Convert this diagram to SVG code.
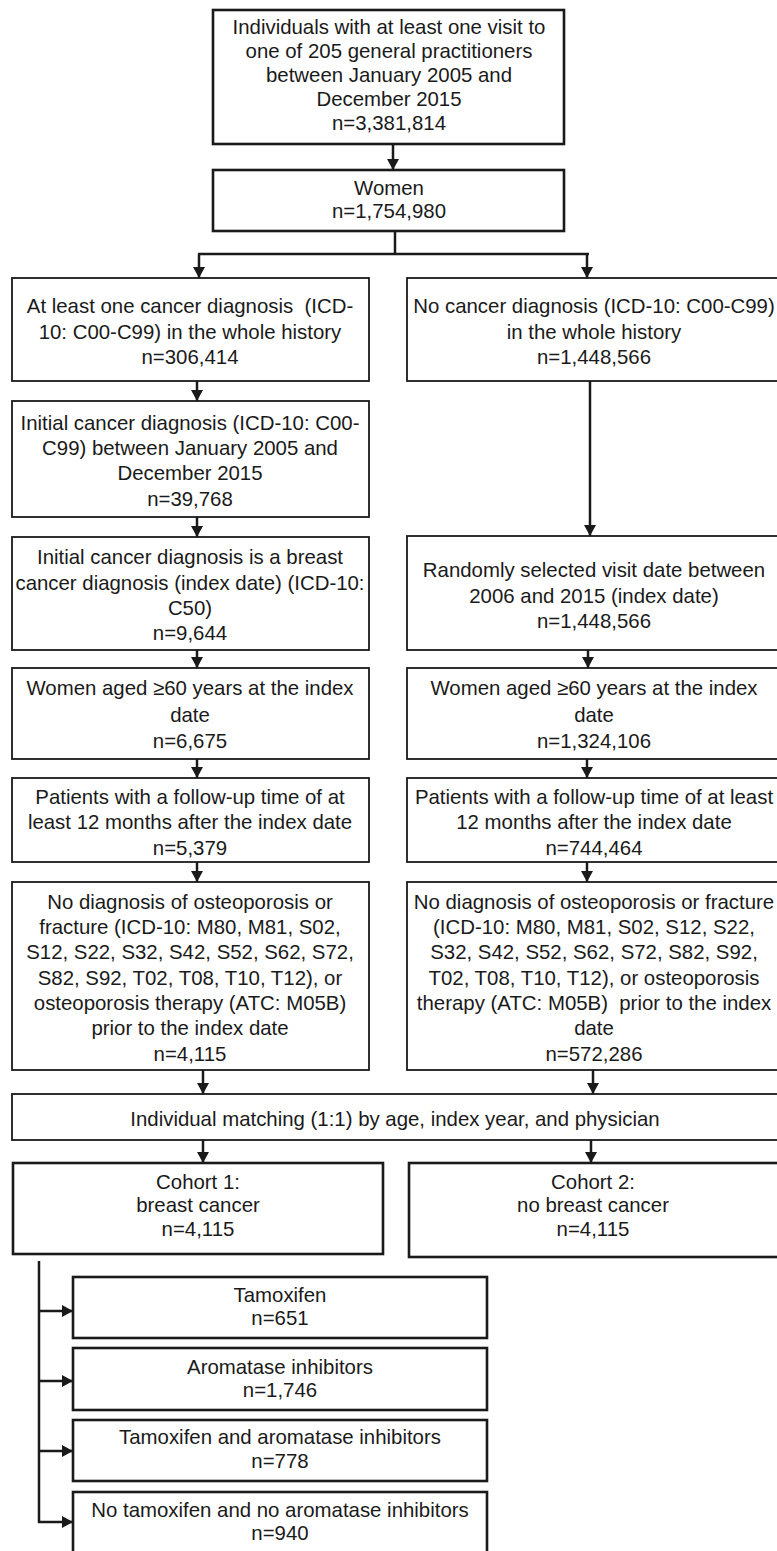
<svg xmlns="http://www.w3.org/2000/svg" width="777" height="1551" viewBox="0 0 777 1551">
<style>
  .box { fill: #fff; stroke: #1a1a1a; stroke-width: 1.8; }
  .thick { stroke-width: 2.6; }
  .t { font-family: "Liberation Sans", Arial, sans-serif; font-size: 20.4px; fill: #1a1a1a; text-anchor: middle; }
  .c { fill: none; stroke: #1a1a1a; stroke-width: 2.5; }
</style>
<defs>
  <marker id="ah" markerUnits="userSpaceOnUse" markerWidth="12" markerHeight="12" refX="11" refY="6" orient="auto">
    <path d="M0,0 L11,6 L0,12 z" fill="#1a1a1a"/>
  </marker>
</defs>
<rect width="777" height="1551" fill="#fff"/>

<g id="connectors">
  <line class="c" x1="393" y1="144" x2="393" y2="170" marker-end="url(#ah)"/>
  <line class="c" x1="395" y1="231" x2="395" y2="254"/>
  <line class="c" x1="198" y1="254" x2="589" y2="254"/>
  <line class="c" x1="199" y1="254" x2="199" y2="278" marker-end="url(#ah)"/>
  <line class="c" x1="587" y1="254" x2="587" y2="278" marker-end="url(#ah)"/>
  <line class="c" x1="197" y1="381" x2="197" y2="401" marker-end="url(#ah)"/>
  <line class="c" x1="590" y1="381" x2="590" y2="536" marker-end="url(#ah)"/>
  <line class="c" x1="197" y1="517" x2="197" y2="537" marker-end="url(#ah)"/>
  <line class="c" x1="197" y1="650" x2="197" y2="668" marker-end="url(#ah)"/>
  <line class="c" x1="588" y1="650" x2="588" y2="668" marker-end="url(#ah)"/>
  <line class="c" x1="197" y1="759" x2="197" y2="778" marker-end="url(#ah)"/>
  <line class="c" x1="587" y1="759" x2="587" y2="778" marker-end="url(#ah)"/>
  <line class="c" x1="197" y1="862" x2="197" y2="882" marker-end="url(#ah)"/>
  <line class="c" x1="587" y1="862" x2="587" y2="882" marker-end="url(#ah)"/>
  <line class="c" x1="203" y1="1070" x2="203" y2="1094" marker-end="url(#ah)"/>
  <line class="c" x1="593" y1="1070" x2="593" y2="1094" marker-end="url(#ah)"/>
  <line class="c" x1="203" y1="1140" x2="203" y2="1163" marker-end="url(#ah)"/>
  <line class="c" x1="591" y1="1140" x2="591" y2="1163" marker-end="url(#ah)"/>
  <line class="c" x1="39" y1="1261" x2="39" y2="1523"/>
  <line class="c" x1="38" y1="1311" x2="73" y2="1311" marker-end="url(#ah)"/>
  <line class="c" x1="38" y1="1381" x2="73" y2="1381" marker-end="url(#ah)"/>
  <line class="c" x1="38" y1="1451" x2="73" y2="1451" marker-end="url(#ah)"/>
  <line class="c" x1="38" y1="1522" x2="73" y2="1522" marker-end="url(#ah)"/>
</g>

<g id="n-all">
  <rect class="box thick" x="213" y="10" width="351" height="134"/>
  <text class="t"><tspan x="389" y="34">Individuals with at least one visit to</tspan><tspan x="389" y="58">one of 205 general practitioners</tspan><tspan x="389" y="82">between January 2005 and</tspan><tspan x="389" y="106">December 2015</tspan><tspan x="389" y="130">n=3,381,814</tspan></text>
</g>
<g id="n-women">
  <rect class="box thick" x="213" y="170" width="351" height="61"/>
  <text class="t"><tspan x="389" y="195">Women</tspan><tspan x="389" y="218">n=1,754,980</tspan></text>
</g>

<g id="n-l1">
  <rect class="box" x="12" y="278" width="357" height="103"/>
  <text class="t" xml:space="preserve"><tspan x="190" y="313">At least one cancer diagnosis  (ICD-</tspan><tspan x="190" y="339">10: C00-C99) in the whole history</tspan><tspan x="190" y="364">n=306,414</tspan></text>
</g>
<g id="n-r1">
  <rect class="box" x="407" y="278" width="380" height="103"/>
  <text class="t"><tspan x="594" y="313">No cancer diagnosis (ICD-10: C00-C99)</tspan><tspan x="594" y="339">in the whole history</tspan><tspan x="594" y="364">n=1,448,566</tspan></text>
</g>

<g id="n-l2">
  <rect class="box" x="12" y="401" width="357" height="116"/>
  <text class="t"><tspan x="190" y="430">Initial cancer diagnosis (ICD-10: C00-</tspan><tspan x="190" y="455">C99) between January 2005 and</tspan><tspan x="190" y="480">December 2015</tspan><tspan x="190" y="506">n=39,768</tspan></text>
</g>

<g id="n-l3">
  <rect class="box" x="12" y="537" width="357" height="113"/>
  <text class="t"><tspan x="190" y="564">Initial cancer diagnosis is a breast</tspan><tspan x="190" y="590">cancer diagnosis (index date) (ICD-10:</tspan><tspan x="190" y="615">C50)</tspan><tspan x="190" y="640">n=9,644</tspan></text>
</g>
<g id="n-r2">
  <rect class="box" x="407" y="536" width="380" height="114"/>
  <text class="t"><tspan x="594" y="577">Randomly selected visit date between</tspan><tspan x="594" y="603">2006 and 2015 (index date)</tspan><tspan x="594" y="628">n=1,448,566</tspan></text>
</g>

<g id="n-l4">
  <rect class="box" x="12" y="668" width="357" height="91"/>
  <text class="t"><tspan x="190" y="695">Women aged ≥60 years at the index</tspan><tspan x="190" y="722">date</tspan><tspan x="190" y="748">n=6,675</tspan></text>
</g>
<g id="n-r4">
  <rect class="box" x="407" y="668" width="380" height="91"/>
  <text class="t"><tspan x="594" y="695">Women aged ≥60 years at the index</tspan><tspan x="594" y="722">date</tspan><tspan x="594" y="748">n=1,324,106</tspan></text>
</g>

<g id="n-l5">
  <rect class="box" x="12" y="778" width="357" height="84"/>
  <text class="t"><tspan x="190" y="804">Patients with a follow-up time of at</tspan><tspan x="190" y="829">least 12 months after the index date</tspan><tspan x="190" y="855">n=5,379</tspan></text>
</g>
<g id="n-r5">
  <rect class="box" x="407" y="778" width="380" height="84"/>
  <text class="t"><tspan x="594" y="804">Patients with a follow-up time of at least</tspan><tspan x="594" y="829">12 months after the index date</tspan><tspan x="594" y="855">n=744,464</tspan></text>
</g>

<g id="n-l6">
  <rect class="box" x="12" y="882" width="357" height="188"/>
  <text class="t"><tspan x="190" y="909">No diagnosis of osteoporosis or</tspan><tspan x="190" y="934">fracture (ICD-10: M80, M81, S02,</tspan><tspan x="190" y="959">S12, S22, S32, S42, S52, S62, S72,</tspan><tspan x="190" y="985">S82, S92, T02, T08, T10, T12), or</tspan><tspan x="190" y="1010">osteoporosis therapy (ATC: M05B)</tspan><tspan x="190" y="1035">prior to the index date</tspan><tspan x="190" y="1061">n=4,115</tspan></text>
</g>
<g id="n-r6">
  <rect class="box" x="407" y="882" width="380" height="188"/>
  <text class="t" xml:space="preserve"><tspan x="594" y="909">No diagnosis of osteoporosis or fracture</tspan><tspan x="594" y="934">(ICD-10: M80, M81, S02, S12, S22,</tspan><tspan x="594" y="959">S32, S42, S52, S62, S72, S82, S92,</tspan><tspan x="594" y="985">T02, T08, T10, T12), or osteoporosis</tspan><tspan x="594" y="1010">therapy (ATC: M05B)  prior to the index</tspan><tspan x="594" y="1035">date</tspan><tspan x="594" y="1061">n=572,286</tspan></text>
</g>

<g id="n-match">
  <rect class="box" x="12" y="1094" width="775" height="46"/>
  <text class="t" x="395" y="1126">Individual matching (1:1) by age, index year, and physician</text>
</g>

<g id="n-c1">
  <rect class="box thick" x="13" y="1163" width="370" height="91"/>
  <text class="t"><tspan x="198" y="1189">Cohort 1:</tspan><tspan x="198" y="1212">breast cancer</tspan><tspan x="198" y="1236">n=4,115</tspan></text>
</g>
<g id="n-c2">
  <rect class="box thick" x="409" y="1163" width="380" height="94"/>
  <text class="t"><tspan x="593" y="1189">Cohort 2:</tspan><tspan x="593" y="1212">no breast cancer</tspan><tspan x="593" y="1236">n=4,115</tspan></text>
</g>

<g id="n-tam">
  <rect class="box thick" x="73" y="1277" width="414" height="61"/>
  <text class="t"><tspan x="280" y="1302">Tamoxifen</tspan><tspan x="280" y="1325">n=651</tspan></text>
</g>
<g id="n-ai">
  <rect class="box thick" x="73" y="1348" width="414" height="62"/>
  <text class="t"><tspan x="280" y="1374">Aromatase inhibitors</tspan><tspan x="280" y="1397">n=1,746</tspan></text>
</g>
<g id="n-tamai">
  <rect class="box thick" x="73" y="1420" width="414" height="61"/>
  <text class="t"><tspan x="280" y="1444">Tamoxifen and aromatase inhibitors</tspan><tspan x="280" y="1468">n=778</tspan></text>
</g>
<g id="n-none">
  <rect class="box thick" x="73" y="1492" width="414" height="64"/>
  <text class="t"><tspan x="280" y="1517">No tamoxifen and no aromatase inhibitors</tspan><tspan x="280" y="1540">n=940</tspan></text>
</g>
</svg>
